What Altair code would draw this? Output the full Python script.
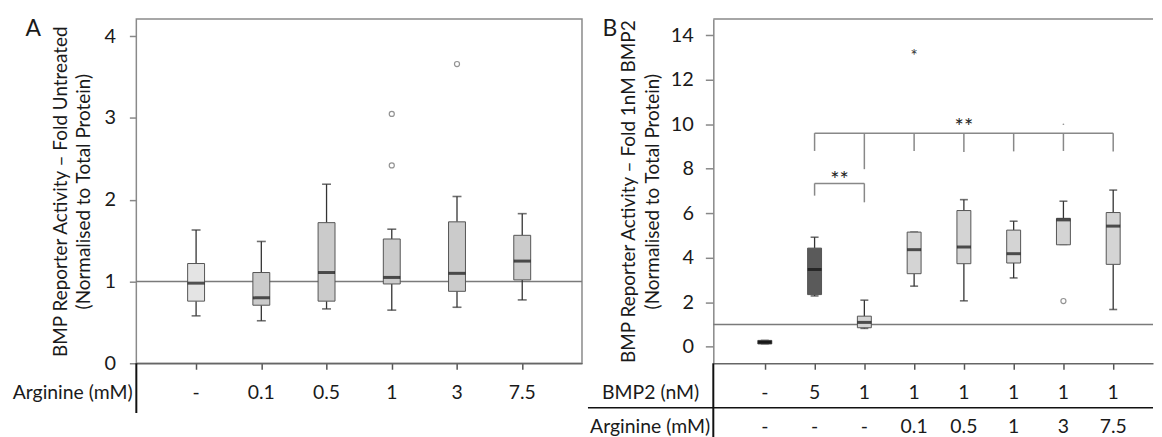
import altair as alt
import pandas as pd

FONT = "Lato"
TXT = "#1a1a1a"
ROWFS = 19.5

# ---------------- Panel A data ----------------
a_arginine = ["-", "0.1", "0.5", "1", "3", "7.5"]
a_low = [0.58, 0.52, 0.665, 0.65, 0.685, 0.775]
a_q1 = [0.76, 0.71, 0.76, 0.97, 0.88, 1.02]
a_med = [0.98, 0.80, 1.11, 1.05, 1.10, 1.25]
a_q3 = [1.22, 1.11, 1.72, 1.52, 1.73, 1.565]
a_high = [1.63, 1.49, 2.19, 1.64, 2.04, 1.83]
a_fill = ["#e4e4e4", "#cbcbcb", "#cbcbcb", "#cbcbcb", "#cbcbcb", "#cbcbcb"]
a_out_pos = [3, 3, 4]
a_out_val = [3.05, 2.42, 3.66]

# ---------------- Panel B data ----------------
b_bmp2 = ["-", "5", "1", "1", "1", "1", "1", "1"]
b_arginine = ["-", "-", "-", "0.1", "0.5", "1", "3", "7.5"]
b_low = [0.13, 2.28, 0.82, 2.72, 2.06, 3.09, 4.60, 1.67]
b_q1 = [0.12, 2.34, 0.85, 3.28, 3.73, 3.76, 4.58, 3.70]
b_med = [0.20, 3.47, 1.09, 4.36, 4.48, 4.18, 5.70, 5.42]
b_q3 = [0.28, 4.43, 1.37, 5.15, 6.12, 5.24, 5.77, 6.03]
b_high = [0.28, 4.92, 2.09, 5.15, 6.61, 5.64, 6.54, 7.04]
b_fill = ["#2b2b2b", "#5a5a5a", "#d4d4d4", "#d4d4d4", "#d4d4d4", "#d4d4d4", "#d4d4d4", "#d4d4d4"]
b_circ_pos = [6]
b_circ_val = [2.05]
b_star_pos = [3]
b_star_val = [13.2]
b_dot_pos = [6]
b_dot_val = [10.0]

# significance brackets (panel B)
br_x1 = [1, 1]
br_x2 = [2, 7]
br_y = [7.34, 9.6]
leg_pos = [1, 2, 1, 2, 3, 4, 5, 6, 7]
leg_top = [7.34, 7.34, 9.6, 9.6, 9.6, 9.6, 9.6, 9.6, 9.6]
leg_bot = [6.79, 6.49, 8.8, 7.98, 8.8, 8.75, 8.78, 8.8, 8.78]
sig_pos = [1.5, 4]
sig_val = [7.76, 10.15]
sig_txt = ["**", "**"]

# ---------------- Panel A ----------------
WA, HA = 448, 346
xsA = alt.Scale(domain=[-0.84, 5.84], nice=False, zero=False)
ysA = alt.Scale(domain=[0, 4.21], nice=False, zero=False)
xaxA = alt.Axis(values=[0, 1, 2, 3, 4, 5], labels=False, title=None, grid=False,
                tickSize=6, tickColor="#555", tickWidth=1.5,
                domainColor="#666", domainWidth=1.5)
yaxA = alt.Axis(values=[0, 1, 2, 3, 4], grid=False, tickSize=7, tickColor="#888",
                tickWidth=1.5, domain=False, labelPadding=14, titlePadding=10,
                title=["BMP Reporter Activity \u2013 Fold Untreated",
                       "(Normalised to Total Protein)"])


def XA(f):
    return alt.X(f, type="quantitative", scale=xsA, axis=xaxA)


def YA(f):
    return alt.Y(f, type="quantitative", scale=ysA, axis=yaxA)


dfA = pd.DataFrame({"pos": list(range(6)), "label": a_arginine, "low": a_low,
                    "q1": a_q1, "med": a_med, "q3": a_q3, "high": a_high,
                    "fill": a_fill})
dfAo = pd.DataFrame({"pos": a_out_pos, "val": a_out_val})
baseA = alt.Chart(dfA)

refA = alt.Chart(pd.DataFrame({"v": [1.0]})).mark_rule(color="#7a7a7a", strokeWidth=1.5).encode(y=YA("v"))
wloA = baseA.mark_rule(color="#333", strokeWidth=1.3).encode(x=XA("pos"), y=YA("low"), y2="q1")
whiA = baseA.mark_rule(color="#333", strokeWidth=1.3).encode(x=XA("pos"), y=YA("q3"), y2="high")
cloA = baseA.mark_tick(orient="horizontal", size=9, thickness=1.6, color="#333").encode(x=XA("pos"), y=YA("low"))
chiA = baseA.mark_tick(orient="horizontal", size=9, thickness=1.6, color="#333").encode(x=XA("pos"), y=YA("high"))
boxA = baseA.mark_bar(size=17, stroke="#555", strokeWidth=1).encode(
    x=XA("pos"), y=YA("q1"), y2="q3", fill=alt.Fill("fill:N", scale=None))
medA = baseA.mark_tick(orient="horizontal", size=17, thickness=3, color="#111").encode(x=XA("pos"), y=YA("med"))
outA = alt.Chart(dfAo).mark_point(shape="circle", filled=False, size=26, color="#666", strokeWidth=1.2).encode(
    x=XA("pos"), y=YA("val"))
rowA = baseA.mark_text(font=FONT, fontSize=ROWFS, color=TXT, baseline="middle").encode(
    x=XA("pos"), y=alt.value(376), text="label")
rowtA = alt.Chart(pd.DataFrame({"t": ["Arginine (mM)"]})).mark_text(
    font=FONT, fontSize=ROWFS, color=TXT, baseline="middle", align="center").encode(
    x=alt.value(-64), y=alt.value(376), text="t")
letA = alt.Chart(pd.DataFrame({"t": ["A"]})).mark_text(
    font=FONT, fontSize=23, color=TXT, baseline="alphabetic", align="center").encode(
    x=alt.value(-103.5), y=alt.value(17), text="t")
vlA = alt.Chart(pd.DataFrame({"a": [0]})).mark_rule(color="#111", strokeWidth=2).encode(
    x=alt.value(0), y=alt.value(HA), y2=alt.value(396))

panelA = alt.layer(refA, wloA, whiA, cloA, chiA, boxA, medA, outA, rowA, rowtA, letA, vlA).properties(
    width=WA, height=HA)

# ---------------- Panel B ----------------
WB, HB = 442, 346
xsB = alt.Scale(domain=[-0.935, 7.70], nice=False, zero=False)
ysB = alt.Scale(domain=[-0.748, 14.73], nice=False, zero=False)
xaxB = alt.Axis(values=list(range(8)), labels=False, title=None, grid=False,
                tickSize=6, tickColor="#555", tickWidth=1.5,
                domainColor="#666", domainWidth=1.5)
yaxB = alt.Axis(values=[0, 2, 4, 6, 8, 10, 12, 14], grid=False, tickSize=8, tickColor="#888",
                tickWidth=1.5, domain=True, domainColor="#888", domainWidth=1.5,
                labelPadding=12, titlePadding=8,
                title=["BMP Reporter Activity \u2013 Fold 1nM BMP2",
                       "(Normalised to Total Protein)"])


def XB(f):
    return alt.X(f, type="quantitative", scale=xsB, axis=xaxB)


def YB(f):
    return alt.Y(f, type="quantitative", scale=ysB, axis=yaxB)


dfB = pd.DataFrame({"pos": list(range(8)), "bmp2": b_bmp2, "arg": b_arginine,
                    "low": b_low, "q1": b_q1, "med": b_med, "q3": b_q3,
                    "high": b_high, "fill": b_fill})
baseB = alt.Chart(dfB)

topB = alt.Chart(pd.DataFrame({"a": [0]})).mark_rule(color="#888", strokeWidth=1.5).encode(
    x=alt.value(0), x2=alt.value(WB), y=alt.value(0))
refB = alt.Chart(pd.DataFrame({"v": [1.0]})).mark_rule(color="#7a7a7a", strokeWidth=1.5).encode(y=YB("v"))
wloB = baseB.mark_rule(color="#333", strokeWidth=1.3).encode(x=XB("pos"), y=YB("low"), y2="q1")
whiB = baseB.mark_rule(color="#333", strokeWidth=1.3).encode(x=XB("pos"), y=YB("q3"), y2="high")
cloB = baseB.mark_tick(orient="horizontal", size=8, thickness=1.6, color="#333").encode(x=XB("pos"), y=YB("low"))
chiB = baseB.mark_tick(orient="horizontal", size=8, thickness=1.6, color="#333").encode(x=XB("pos"), y=YB("high"))
boxB = baseB.mark_bar(size=14, stroke="#555", strokeWidth=1).encode(
    x=XB("pos"), y=YB("q1"), y2="q3", fill=alt.Fill("fill:N", scale=None))
medB = baseB.mark_tick(orient="horizontal", size=14, thickness=3, color="#111").encode(x=XB("pos"), y=YB("med"))
circB = alt.Chart(pd.DataFrame({"pos": b_circ_pos, "val": b_circ_val})).mark_point(
    shape="circle", filled=False, size=26, color="#666", strokeWidth=1.2).encode(x=XB("pos"), y=YB("val"))
starB = alt.Chart(pd.DataFrame({"pos": b_star_pos, "val": b_star_val, "t": ["*"]})).mark_text(
    font=FONT, fontSize=17, color="#333", baseline="middle", dy=4).encode(x=XB("pos"), y=YB("val"), text="t")
dotB = alt.Chart(pd.DataFrame({"pos": b_dot_pos, "val": b_dot_val})).mark_point(
    shape="circle", filled=True, size=3, color="#999", opacity=1).encode(x=XB("pos"), y=YB("val"))
brH = alt.Chart(pd.DataFrame({"x1": br_x1, "x2": br_x2, "y": br_y})).mark_rule(
    color="#888", strokeWidth=1.5).encode(x=XB("x1"), x2="x2", y=YB("y"))
brV = alt.Chart(pd.DataFrame({"pos": leg_pos, "top": leg_top, "bot": leg_bot})).mark_rule(
    color="#888", strokeWidth=1.5).encode(x=XB("pos"), y=YB("top"), y2="bot")
sigB = alt.Chart(pd.DataFrame({"pos": sig_pos, "val": sig_val, "t": sig_txt})).mark_text(
    font=FONT, fontSize=22, color="#222", baseline="middle", dy=6).encode(x=XB("pos"), y=YB("val"), text="t")
row1B = baseB.mark_text(font=FONT, fontSize=ROWFS, color=TXT, baseline="middle").encode(
    x=XB("pos"), y=alt.value(375.7), text="bmp2")
row2B = baseB.mark_text(font=FONT, fontSize=ROWFS, color=TXT, baseline="middle").encode(
    x=XB("pos"), y=alt.value(409.7), text="arg")
rowt1B = alt.Chart(pd.DataFrame({"t": ["BMP2 (nM)"]})).mark_text(
    font=FONT, fontSize=ROWFS, color=TXT, baseline="middle", align="center").encode(
    x=alt.value(-63), y=alt.value(375.7), text="t")
rowt2B = alt.Chart(pd.DataFrame({"t": ["Arginine (mM)"]})).mark_text(
    font=FONT, fontSize=ROWFS, color=TXT, baseline="middle", align="center").encode(
    x=alt.value(-63.5), y=alt.value(409.7), text="t")
letB = alt.Chart(pd.DataFrame({"t": ["B"]})).mark_text(
    font=FONT, fontSize=23, color=TXT, baseline="alphabetic", align="center").encode(
    x=alt.value(-104), y=alt.value(17), text="t")
vlB = alt.Chart(pd.DataFrame({"a": [0]})).mark_rule(color="#111", strokeWidth=2).encode(
    x=alt.value(0), y=alt.value(HB), y2=alt.value(421))
hlB = alt.Chart(pd.DataFrame({"a": [0]})).mark_rule(color="#111", strokeWidth=1.5).encode(
    x=alt.value(-126), x2=alt.value(WB), y=alt.value(390.7))

panelB = alt.layer(topB, refB, brH, brV, wloB, whiB, cloB, chiB, boxB, medB, circB, starB, dotB,
                   sigB, row1B, row2B, rowt1B, rowt2B, letB, vlB, hlB).properties(
    width=WB, height=HB, view=alt.ViewBackground(stroke=None))

chart = alt.hconcat(panelA, panelB, spacing=3).properties(
    padding={"left": 3, "top": 8, "right": 0, "bottom": 0}
).configure_view(stroke="#8a8a8a", strokeWidth=1.5).configure_axis(
    labelFont=FONT, labelFontSize=20, labelColor=TXT,
    titleFont=FONT, titleFontSize=19, titleFontWeight="normal", titleColor=TXT,
    titleLineHeight=24
)

chart.save("out.html", embed_options={"renderer": "svg", "actions": False})
